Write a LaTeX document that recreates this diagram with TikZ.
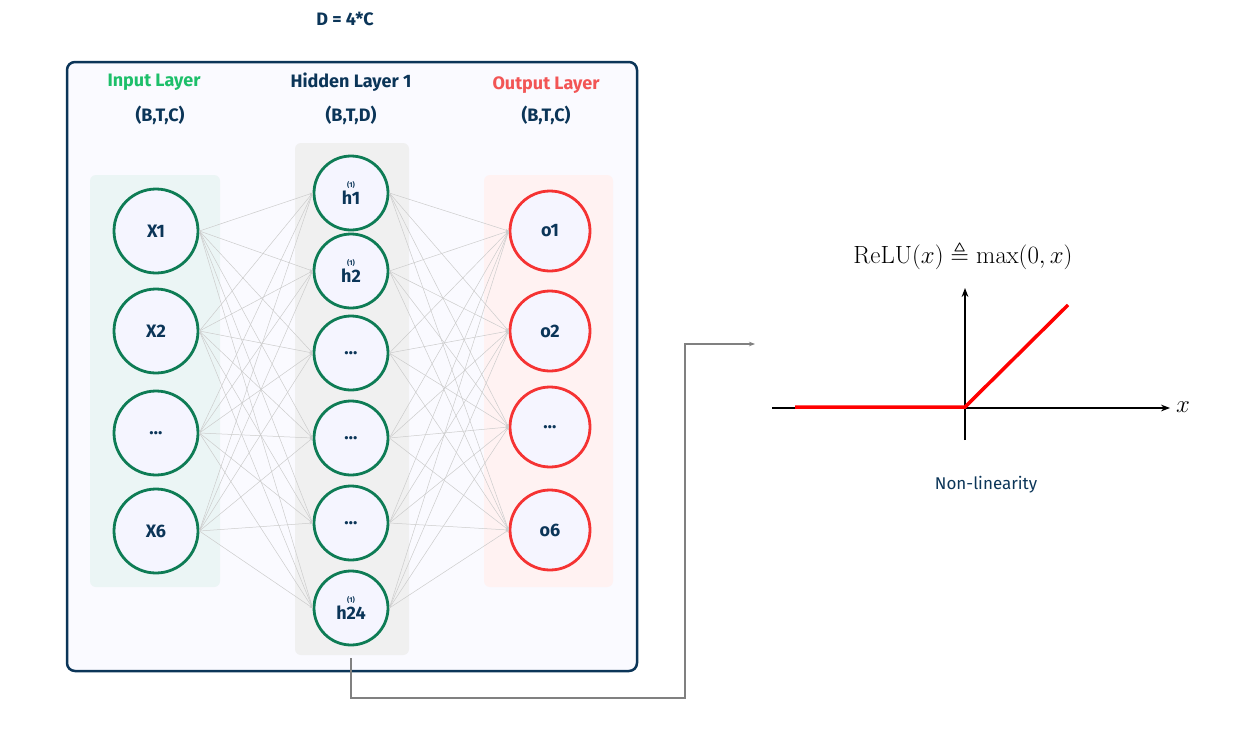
\documentclass[tikz,border=0pt]{standalone}
\usepackage{amssymb}
\usepackage[no-math]{fontspec}
\setmainfont{Fira Sans}
\usetikzlibrary{arrows.meta}
\definecolor{navy}{HTML}{0B3558}
\definecolor{ngreen}{HTML}{0E7C55}
\definecolor{tgreen}{HTML}{1DBF6A}
\definecolor{nred}{HTML}{F53333}
\definecolor{tred}{HTML}{F25555}
\begin{document}
\begin{tikzpicture}[x=1pt,y=-1pt,
 inn/.style={circle,draw=ngreen,line width=2.8pt,fill=white!96!blue,minimum size=#1,inner sep=0pt,text=navy,font=\fontsize{18}{18}\selectfont\bfseries},
 onode/.style={circle,draw=nred,line width=2.8pt,fill=white!96!blue,minimum size=80pt,inner sep=0pt,text=navy,font=\fontsize{18}{18}\selectfont\bfseries},
 edge/.style={draw=gray!40,line width=0.5pt,-{Stealth[length=3pt,width=2.5pt]}},
 ttl/.style={font=\fontsize{18}{18}\selectfont\bfseries},
 panel/.style={rounded corners=6pt,draw=none}]
\useasboundingbox (0,0) rectangle (1260,728);
\node[ttl,text=navy] (d) at (345,19) {D = 4*C};
\draw[navy,line width=2.5pt,rounded corners=8pt,fill=blue!2] (67,62) rectangle (637,671);
\fill[panel,fill=teal!8] (90,175) rectangle (220,587);
\fill[panel,fill=gray!12] (295,143) rectangle (409,655);
\fill[panel,fill=red!5] (484,175) rectangle (613,587);
\node[ttl,text=tgreen] (t1) at (154,82) {Input Layer};
\node[ttl,text=navy] (t2) at (351,82) {Hidden Layer 1};
\node[ttl,text=tred] (t3) at (546,85) {Output Layer};
\node[ttl,text=navy] (s1) at (160,115) {(B,T,C)};
\node[ttl,text=navy] (s2) at (351,115) {(B,T,D)};
\node[ttl,text=navy] (s3) at (546,115) {(B,T,C)};
\foreach \n/\y/\t in {1/231/X1,2/331/X2,3/433/\dots,4/531/X6}
  \node[inn=84pt] (i\n) at (156,\y) {\t};
\newcommand{\hs}[1]{\shortstack{\fontsize{7}{7}\selectfont(1)\\[-1pt]#1}}
\foreach \n/\y/\t in {1/193/\hs{h1},2/271/\hs{h2},3/353/\dots,4/438/\dots,5/523/\dots,6/608/\hs{h24}}
  \node[inn=74pt] (h\n) at (351,\y) {\t};
\foreach \n/\y/\t in {1/231/o1,2/331/o2,3/427/\dots,4/530/o6}
  \node[onode] (o\n) at (550,\y) {\t};
\foreach \a in {1,...,4}\foreach \b in {1,...,6} \draw[edge] (i\a.east) -- (h\b.west);
\foreach \a in {1,...,6}\foreach \b in {1,...,4} \draw[edge] (h\a.east) -- (o\b.west);
\coordinate (c1) at (351,658);
\coordinate (c2) at (755,344);
\draw[gray,line width=1.2pt,-{Stealth[length=6pt]}] (c1) -- (351,698) -- (685,698) -- (685,344) -- (c2);
% ReLU
\coordinate (xa) at (772,408); \coordinate (xb) at (1170,408);
\coordinate (ya) at (965,440); \coordinate (yb) at (965,288);
\draw[line width=1.2pt,-{Stealth[length=9pt]}] (xa) -- (xb);
\draw[line width=1.2pt,-{Stealth[length=9pt]}] (ya) -- (yb);
\node[font=\fontsize{25}{25}\selectfont] (xl) at (1183,407) {$x$};
\draw[red,line width=3.5pt] (795,407) -- (965,407) -- (1068,305);
\node[font=\fontsize{24}{24}\selectfont] (f) at (963,256) {$\mathrm{ReLU}(x)\triangleq\max(0,x)$};
\node[ttl,text=navy,font=\fontsize{17}{17}\selectfont] (nl) at (986,485) {Non-linearity};
\end{tikzpicture}
\end{document}
